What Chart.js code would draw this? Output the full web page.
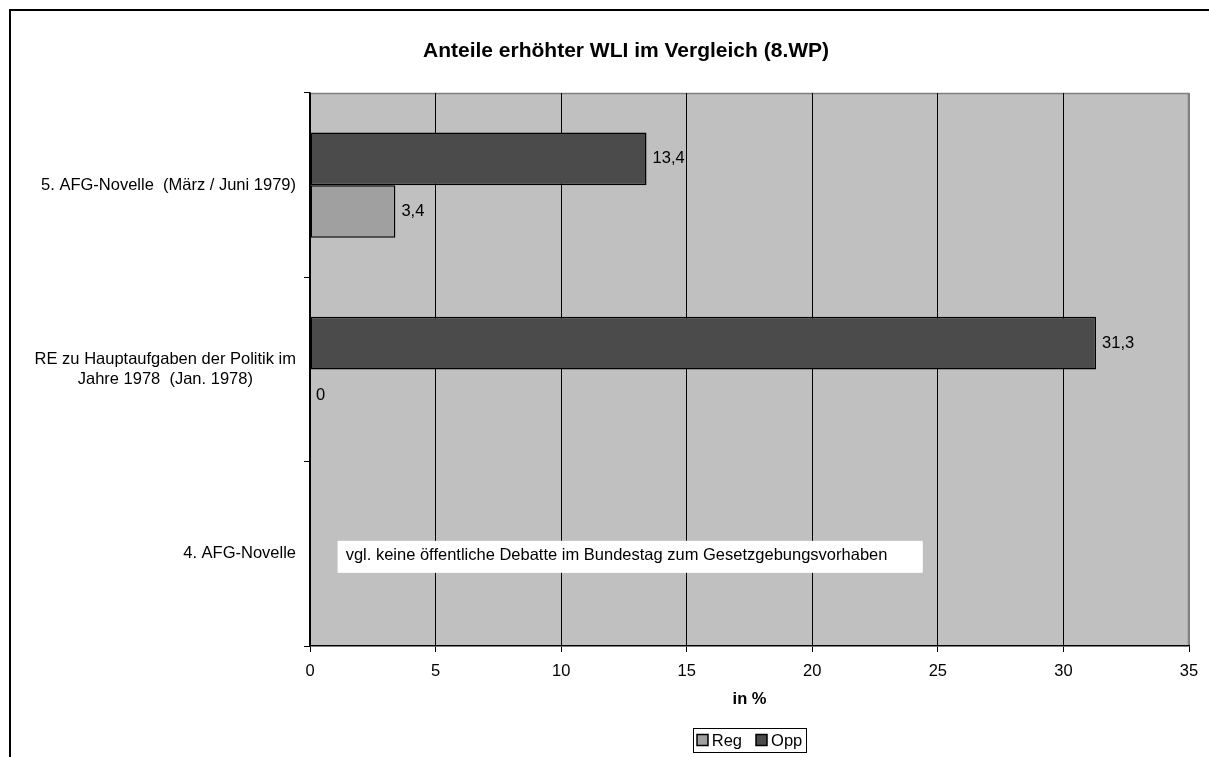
<!DOCTYPE html>
<html>
<head>
<meta charset="utf-8">
<script src="https://cdn.jsdelivr.net/npm/chart.js@4.4.1/dist/chart.umd.min.js"></script>
<style>
  html, body { margin: 0; padding: 0; background: #fff; }
  canvas { display: block; }
</style>
</head>
<body>
<canvas id="c" width="1209" height="757"></canvas>
<script>
// ---- data ----
const chartTitle = 'Anteile erhöhter WLI im Vergleich (8.WP)';
const axisTitle = 'in %';
const categories = [
  '5. AFG-Novelle  (März / Juni 1979)',
  ['RE zu Hauptaufgaben der Politik im', 'Jahre 1978  (Jan. 1978)'],
  '4. AFG-Novelle'
];
const seriesNames = ['Reg', 'Opp'];
const regValues = [3.4, 0, null];
const oppValues = [13.4, 31.3, null];
const xTicks = [0, 5, 10, 15, 20, 25, 30, 35];
const noteText = 'vgl. keine öffentliche Debatte im Bundestag zum Gesetzgebungsvorhaben';

const FONT = "'Liberation Sans', Arial, sans-serif";
const FS = 16.5;
const regColor = '#A0A0A0';
const oppColor = '#4B4B4B';

const decorPlugin = {
  id: 'decor',
  beforeDraw(chart) {
    const ctx = chart.ctx, a = chart.chartArea;
    ctx.save();
    ctx.fillStyle = '#fff';
    ctx.fillRect(0, 0, chart.width, chart.height);
    // frame
    ctx.fillStyle = '#000';
    ctx.fillRect(9, 9, chart.width - 9, 2);
    ctx.fillRect(9, 9, 2, chart.height - 9);
    // plot background
    ctx.fillStyle = '#C0C0C0';
    ctx.fillRect(a.left, a.top, a.right - a.left, a.bottom - a.top);
    ctx.strokeStyle = '#808080';
    ctx.lineWidth = 1.5;
    ctx.beginPath();
    ctx.moveTo(a.left, a.top + 0.5);
    ctx.lineTo(a.right - 0.5, a.top + 0.5);
    ctx.lineTo(a.right - 0.5, a.bottom);
    ctx.stroke();
    ctx.restore();
  },
  afterDatasetsDraw(chart) {
    const ctx = chart.ctx, a = chart.chartArea;
    const yScale = chart.scales.y, xScale = chart.scales.x;
    ctx.save();
    ctx.fillStyle = '#000';
    ctx.font = FS + 'px ' + FONT;
    ctx.textBaseline = 'middle';
    ctx.textAlign = 'left';
    // value labels
    chart.data.datasets.forEach((ds, di) => {
      const meta = chart.getDatasetMeta(di);
      meta.data.forEach((el, j) => {
        const v = ds.data[j];
        if (v === null || v === undefined) return;
        ctx.fillText(String(v).replace('.', ','), el.x + 6, el.y);
      });
    });
    // category labels (right aligned block, centered lines)
    const right = a.left - 14;
    categories.forEach((lab, i) => {
      const lines = Array.isArray(lab) ? lab : [lab];
      const w = Math.max(...lines.map(l => ctx.measureText(l).width));
      const cy = yScale.getPixelForValue(i);
      const lh = FS * 1.2;
      ctx.textAlign = 'center';
      lines.forEach((l, k) => {
        ctx.fillText(l, right - w / 2, cy + (k - (lines.length - 1) / 2) * lh);
      });
    });
    // note box in the empty category
    const ny = yScale.getPixelForValue(2);
    const bx0 = xScale.getPixelForValue(1.1), bx1 = xScale.getPixelForValue(24.4);
    ctx.fillStyle = '#fff';
    ctx.fillRect(bx0, ny - 13, bx1 - bx0, 32);
    ctx.fillStyle = '#000';
    ctx.textAlign = 'left';
    ctx.fillText(noteText, bx0 + 8, ny + 2);
    // title
    ctx.font = 'bold 21px ' + FONT;
    ctx.textAlign = 'center';
    ctx.fillText(chartTitle, 626, 51);
    // axis title
    const cx = (a.left + a.right) / 2;
    ctx.font = 'bold ' + FS + 'px ' + FONT;
    ctx.fillText(axisTitle, cx, 699);
    // legend
    ctx.font = FS + 'px ' + FONT;
    const pad = 4, sq = 11, g1 = 4, g2 = 14;
    const tw = seriesNames.map(n => ctx.measureText(n).width);
    const totalW = pad * 2 + tw.reduce((s, t) => s + sq + g1 + t, 0) + g2 * (seriesNames.length - 1);
    const lx = cx - totalW / 2, ly = 728, lhgt = 24;
    ctx.fillStyle = '#fff';
    ctx.fillRect(lx, ly, totalW, lhgt);
    ctx.strokeStyle = '#000';
    ctx.lineWidth = 1;
    ctx.strokeRect(Math.round(lx) + 0.5, ly + 0.5, Math.round(totalW), lhgt);
    let x = lx + pad;
    const colors = [regColor, oppColor];
    seriesNames.forEach((n, i) => {
      ctx.fillStyle = colors[i];
      ctx.fillRect(Math.round(x), ly + lhgt / 2 - sq / 2, sq, sq);
      ctx.strokeStyle = '#000';
      ctx.lineWidth = 1.5;
      ctx.strokeRect(Math.round(x), ly + lhgt / 2 - sq / 2, sq, sq);
      x += sq + g1;
      ctx.fillStyle = '#000';
      ctx.textAlign = 'left';
      ctx.fillText(n, x, ly + lhgt / 2 + 1);
      x += tw[i] + g2;
    });
    ctx.restore();
  }
};

new Chart(document.getElementById('c'), {
  type: 'bar',
  data: {
    labels: categories,
    datasets: [
      { label: seriesNames[1], data: oppValues, backgroundColor: oppColor, borderColor: '#000', borderWidth: 1.5, borderSkipped: false },
      { label: seriesNames[0], data: regValues, backgroundColor: regColor, borderColor: '#000', borderWidth: 1.5, borderSkipped: false }
    ]
  },
  options: {
    indexAxis: 'y',
    responsive: false,
    animation: false,
    devicePixelRatio: 1,
    layout: { padding: { left: 0, top: 93, right: 20, bottom: 0 } },
    datasets: { bar: { categoryPercentage: 0.5714, barPercentage: 1 } },
    plugins: { legend: { display: false }, title: { display: false }, tooltip: { enabled: false } },
    scales: {
      x: {
        type: 'linear', min: 0, max: 35,
        afterBuildTicks(s) { s.ticks = xTicks.map(v => ({ value: v })); },
        afterFit(s) { s.height = 111; },
        ticks: { color: '#000', font: { family: FONT, size: FS }, padding: 10, maxRotation: 0 },
        grid: {
          color: c => (c.tick && c.tick.value === 35) ? '#808080' : '#000',
          tickColor: '#000', lineWidth: 1, tickLength: 6, drawTicks: true
        },
        border: { color: '#000', width: 1.5 }
      },
      y: {
        afterFit(s) { s.width = 310; },
        ticks: { display: false },
        grid: { drawOnChartArea: false, drawTicks: true, tickLength: 6, color: '#000', offset: true },
        border: { color: '#000', width: 1.5 }
      }
    }
  },
  plugins: [decorPlugin]
});
</script>
</body>
</html>
